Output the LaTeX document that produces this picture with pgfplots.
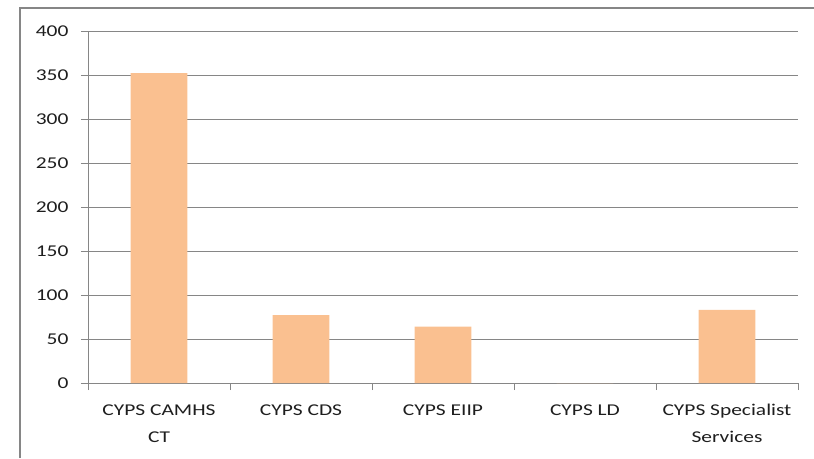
\documentclass[border=0pt]{standalone}
\usepackage{pgfplots}
\pgfplotsset{compat=1.18}
\usepackage{fontspec}
\setmainfont{Carlito}[FakeStretch=1.3]
\definecolor{barc}{RGB}{250,192,144}
\definecolor{gridc}{RGB}{134,134,134}
\definecolor{txtc}{RGB}{30,30,30}
\begin{document}
\begin{tikzpicture}[x=1pt,y=1pt]
\begin{axis}[
  at={(88pt,75pt)}, anchor=south west,
  scale only axis, width=710pt, height=352pt,
  xmin=-0.5, xmax=4.5, ymin=0, ymax=400,
  ytick={0,50,...,400},
  xtick={0,1,2,3,4},
  xticklabels={{CYPS CAMHS\\CT},{CYPS CDS},{CYPS EIIP},{CYPS LD},{CYPS Specialist\\Services}},
  minor xtick={-0.5,0.5,...,4.5},
  axis x line=bottom, axis y line=left,
  axis line style={-, color=gridc, line width=1pt},
  ymajorgrids, major grid style={color=gridc, line width=1pt},
  tick style={color=gridc, line width=1pt},
  major x tick style={draw=none},
  tick align=outside,
  major tick length=7pt, minor tick length=7pt,
  ticklabel style={font=\fontsize{16.5}{27}\selectfont, text=txtc},
  xticklabel style={align=center, yshift=-11pt},
  yticklabel style={xshift=-9pt},
  /pgf/number format/assume math mode=true,
  clip=false,
]
\addplot[ybar, bar width=0.4, fill=barc, draw=none] coordinates {(0,352) (1,77) (2,64) (3,0) (4,83)};
\end{axis}
\draw[color=gridc, line width=2pt] (19.5,0) -- (19.5,449.5) -- (814,449.5);
\pgfresetboundingbox
\useasboundingbox (0,0) rectangle (814,458);
\end{tikzpicture}
\end{document}
